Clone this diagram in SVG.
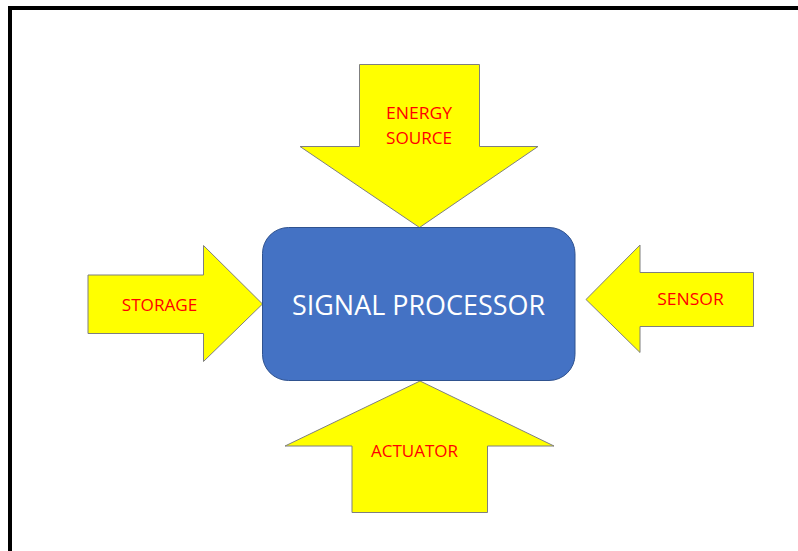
<svg xmlns="http://www.w3.org/2000/svg" width="798" height="551" viewBox="0 0 798 551">
<style>
.arrow{fill:#FFFF00;stroke:#7F7F7F;stroke-width:1;stroke-linejoin:miter}
.lbl{font-family:"Open Sans","Liberation Sans",sans-serif;font-size:16px;fill:#FF0000;text-anchor:middle}
.main{font-family:"Open Sans","Liberation Sans",sans-serif;font-size:28px;fill:#FFFFFF;text-anchor:middle}
</style>
<rect x="0" y="0" width="798" height="551" fill="#FFFFFF"/>
<rect x="10" y="8" width="900" height="700" fill="none" stroke="#000000" stroke-width="4"/>
<g id="connectors">
<g id="energy-source">
<polygon class="arrow" points="359.5,64.5 479.5,64.5 479.5,146.5 538,146.5 419.5,227.5 300,146.5 359.5,146.5"/>
<text class="lbl" x="419" y="119" textLength="66" lengthAdjust="spacingAndGlyphs">ENERGY</text>
<text class="lbl" x="419" y="144" textLength="66" lengthAdjust="spacingAndGlyphs">SOURCE</text>
</g>
<g id="storage">
<polygon class="arrow" points="88,275 203.5,275 203.5,245.5 262.5,304 203.5,361.5 203.5,333.5 88,333.5"/>
<text class="lbl" x="159.5" y="310.5" textLength="75.5" lengthAdjust="spacingAndGlyphs">STORAGE</text>
</g>
<g id="sensor">
<polygon class="arrow" points="753.5,272.5 640,272.5 640,245 586,299.5 640,352.5 640,326.5 753.5,326.5"/>
<text class="lbl" x="690.5" y="305" textLength="66.5" lengthAdjust="spacingAndGlyphs">SENSOR</text>
</g>
<g id="actuator">
<polygon class="arrow" points="352,512.5 487.5,512.5 487.5,446 554,446 420,381 285,446 352,446"/>
<text class="lbl" x="414.5" y="456.5" textLength="87" lengthAdjust="spacingAndGlyphs">ACTUATOR</text>
</g>
</g>
<g id="signal-processor">
<rect x="262.5" y="227.5" width="312.5" height="153" rx="26" ry="26" fill="#4472C4" stroke="#2F528F" stroke-width="1"/>
<text class="main" x="418.5" y="315" textLength="253" lengthAdjust="spacingAndGlyphs">SIGNAL PROCESSOR</text>
</g>
</svg>
